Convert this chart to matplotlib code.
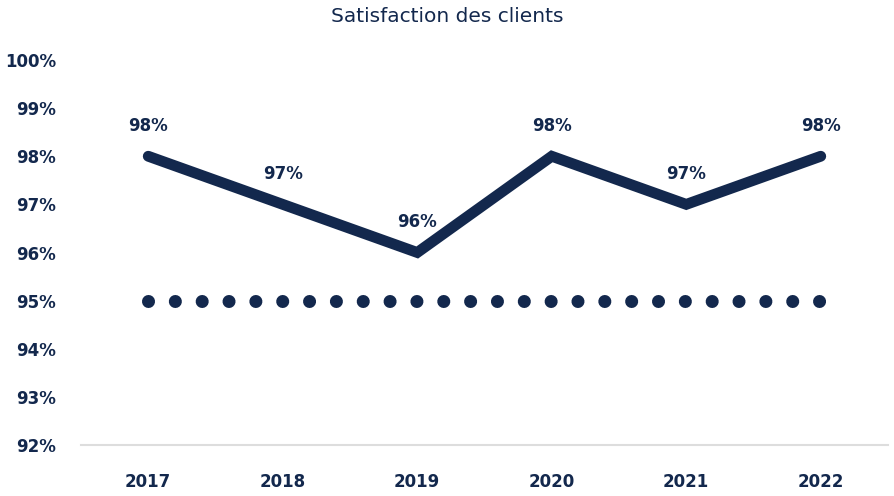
import matplotlib
matplotlib.use("Agg")
import matplotlib.pyplot as plt

years = ["2017", "2018", "2019", "2020", "2021", "2022"]
satisfaction = [98, 97, 96, 98, 97, 98]
target = [95, 95, 95, 95, 95, 95]
y_ticks = [92, 93, 94, 95, 96, 97, 98, 99, 100]

navy = "#13284d"
plt.rcParams['font.family'] = ['DejaVu Sans']

fig = plt.figure(figsize=(8.95, 4.96), dpi=100)
ax = fig.add_axes([81/895, 1-445/496, 807/895, 385/496])

x = list(range(len(years)))

# target line, drawn as round dots
ax.plot(x, target, color=navy, linewidth=9.4, linestyle=(0, (0.001, 2.055)),
        dash_capstyle="round", solid_capstyle="round")

ax.plot(x, satisfaction, color=navy, linewidth=7.8, solid_joinstyle="miter",
        solid_capstyle="round", zorder=3)

for xi, v in zip(x, satisfaction):
    ax.annotate(f"{v}%", (xi, v), xytext=(0, 22), textcoords="offset points",
                ha="center", va="center", fontsize=12, fontweight="bold", color=navy)

ax.set_xlim(-0.5, len(years) - 0.5)
ax.set_ylim(92, 100)
ax.set_yticks(y_ticks)
ax.set_yticklabels([f"{t}%" for t in y_ticks])
ax.set_xticks(x)
ax.set_xticklabels(years)
for lbl in ax.get_xticklabels() + ax.get_yticklabels():
    lbl.set_fontweight("bold")
    lbl.set_fontsize(12)
    lbl.set_color(navy)
ax.tick_params(axis="both", length=0)
ax.tick_params(axis="y", pad=18)
ax.tick_params(axis="x", pad=20)

for s in ["top", "right", "left"]:
    ax.spines[s].set_visible(False)
ax.spines["bottom"].set_color("#dddddd")
ax.spines["bottom"].set_linewidth(1.5)

fig.text(0.5, 1-16/496, "Satisfaction des clients", ha="center", va="center",
         fontsize=14.5, color=navy)

fig.savefig("out.png", dpi=100)
